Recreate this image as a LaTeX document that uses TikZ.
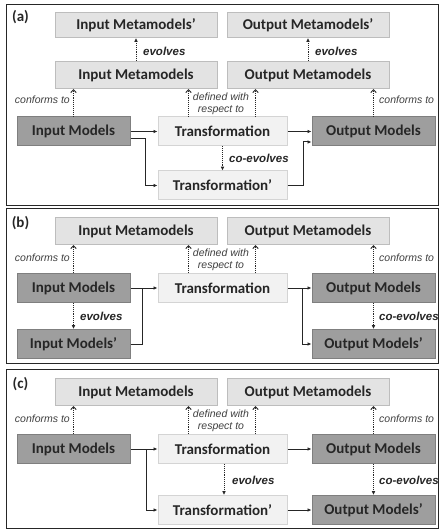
\documentclass[tikz,border=0pt]{standalone}
\usepackage{fontspec}
\setmainfont{Carlito}
\newfontfamily\lblfont{Liberation Sans}
\usetikzlibrary{arrows.meta,calc}
\definecolor{textc}{HTML}{262626}
\definecolor{mdfill}{HTML}{9E9E9E}
\definecolor{mddraw}{HTML}{7F7F7F}
\definecolor{mmfill}{HTML}{E3E3E3}
\definecolor{mmdraw}{HTML}{BDBDBD}
\definecolor{tffill}{HTML}{F2F2F2}
\definecolor{tfdraw}{HTML}{D4D4D4}
\definecolor{linec}{HTML}{262626}
\definecolor{labc}{HTML}{404040}
\begin{document}
\begin{tikzpicture}[x=1pt,y=-1pt,
  box/.style={draw, rectangle, inner sep=0pt, line width=1pt, text=textc,
    font=\fontsize{15}{15}\selectfont\bfseries},
  mm/.style={box, fill=mmfill, draw=mmdraw, minimum width=162pt, minimum height=27pt},
  mmp/.style={mm, minimum height=25pt},
  inm/.style={box, fill=mdfill, draw=mddraw, minimum width=113pt, minimum height=29pt},
  outm/.style={box, fill=mdfill, draw=mddraw, minimum width=123pt, minimum height=29pt},
  tf/.style={box, fill=tffill, draw=tfdraw, minimum width=129pt, minimum height=29pt},
  frame/.style={draw=black!85, line width=1pt},
  panel/.style={font=\fontsize{15}{15}\selectfont\bfseries, text=textc, inner sep=0pt},
  conn/.style={draw=linec, line width=1pt, -{Latex[length=4pt,width=3.6pt]}},
  plain/.style={draw=linec, line width=1pt},
  conf/.style={draw=linec, line width=0.9pt, densely dotted, -{Straight Barb[length=3pt,width=5.5pt]}},
  evo/.style={draw=linec, line width=0.9pt, densely dotted, -{Latex[length=3.8pt,width=3.6pt]}},
  lab/.style={font=\lblfont\fontsize{10.5}{12}\selectfont\itshape, text=labc, inner sep=0pt, align=center},
  elab/.style={font=\lblfont\fontsize{11.5}{12}\selectfont\bfseries\itshape, text=textc, inner sep=0pt}
]
\useasboundingbox (0,0) rectangle (440,529);
\fill[white] (0,0) rectangle (440,529);

% ---------------- panel (a)
\draw[frame] (6,5) rectangle (438,205);
\node[panel] (pa) at (20.5,17) {(a)};
\node[mmp] (aIMMp) at (136,25) {Input Metamodels’};
\node[mmp] (aOMMp) at (308,25) {Output Metamodels’};
\node[mm] (aIMM) at (136,75) {Input Metamodels};
\node[mm] (aOMM) at (308,75) {Output Metamodels};
\node[inm] (aIM) at (73.5,131.5) {Input Models};
\node[tf] (aT) at (222.5,131.5) {Transformation};
\node[outm] (aOM) at (373.5,131.5) {Output Models};
\node[tf] (aTp) at (222.5,185.5) {Transformation’};

\draw[evo] (aIMM) -- (aIMMp);
\draw[evo] (aOMM) -- (aOMMp);
\node[elab, anchor=west] (aev1) at (143,51) {evolves};
\node[elab, anchor=west] (aev2) at (315,51) {evolves};
\draw[conf] (aIM.north) -- (aIM.north |- aIMM.south);
\draw[conf] (aOM.north) -- (aOM.north |- aOMM.south);
\draw[conf] ([xshift=-34pt]aT.north) -- ([xshift=-34pt]aT.north |- aIMM.south);
\draw[conf] ([xshift=33pt]aT.north) -- ([xshift=33pt]aT.north |- aOMM.south);
\node[lab, anchor=east] (acf1) at (70,100) {conforms to};
\node[lab, anchor=west] (acf2) at (379,100) {conforms to};
\node[lab] (adw) at (221,103.5) {defined with\\respect to};
\draw[conn] (aIM.east) -- (aT.west);
\draw[conn] ([yshift=-7.5pt]aIM.east) -- ++(15,0) |- (aTp.west);
\draw[conn] (aT.east) -- (aOM.west);
\draw[conn] (aTp.east) -- ++(16,0) |- ([yshift=-10.5pt]aOM.west);
\draw[evo] (aT) -- (aTp);
\node[elab, anchor=west] (aco) at (229,158.5) {co-evolves};

% ---------------- panel (b)
\draw[frame] (6,208) rectangle (438,363);
\node[panel] (pb) at (20.5,223) {(b)};
\node[mm] (bIMM) at (136,231) {Input Metamodels};
\node[mm] (bOMM) at (308,231) {Output Metamodels};
\node[inm] (bIM) at (73.5,288) {Input Models};
\node[tf] (bT) at (222.5,288) {Transformation};
\node[outm] (bOM) at (373.5,288) {Output Models};
\node[inm] (bIMp) at (73.5,344) {Input Models’};
\node[outm] (bOMp) at (373.5,344) {Output Models’};

\draw[conf] (bIM.north) -- (bIM.north |- bIMM.south);
\draw[conf] (bOM.north) -- (bOM.north |- bOMM.south);
\draw[conf] ([xshift=-34pt]bT.north) -- ([xshift=-34pt]bT.north |- bIMM.south);
\draw[conf] ([xshift=33pt]bT.north) -- ([xshift=33pt]bT.north |- bOMM.south);
\node[lab, anchor=east] (bcf1) at (70,258) {conforms to};
\node[lab, anchor=west] (bcf2) at (379,258) {conforms to};
\node[lab] (bdw) at (221,260) {defined with\\respect to};
\coordinate (bj1) at (142,288);
\coordinate (bj2) at (302,288);
\draw[conn] (bIM.east) -- (bT.west);
\draw[plain] (bIMp.east) -| (bj1);
\draw[conn] (bT.east) -- (bOM.west);
\draw[conn] (bj2) |- (bOMp.west);
\draw[evo] (bIM) -- (bIMp);
\node[elab, anchor=west] (bev) at (80,316.5) {evolves};
\draw[evo] (bOM) -- (bOMp);
\node[elab, anchor=west] (bco) at (379,316.5) {co-evolves};

% ---------------- panel (c)
\draw[frame] (6,369) rectangle (438,528);
\node[panel] (pc) at (20.5,384) {(c)};
\node[mm] (cIMM) at (136,392) {Input Metamodels};
\node[mm] (cOMM) at (308,392) {Output Metamodels};
\node[inm] (cIM) at (73.5,449) {Input Models};
\node[tf] (cT) at (222.5,449) {Transformation};
\node[outm] (cOM) at (373.5,449) {Output Models};
\node[tf] (cTp) at (222.5,510) {Transformation’};
\node[outm] (cOMp) at (373.5,510) {Output Models’};

\draw[conf] (cIM.north) -- (cIM.north |- cIMM.south);
\draw[conf] (cOM.north) -- (cOM.north |- cOMM.south);
\draw[conf] ([xshift=-34pt]cT.north) -- ([xshift=-34pt]cT.north |- cIMM.south);
\draw[conf] ([xshift=33pt]cT.north) -- ([xshift=33pt]cT.north |- cOMM.south);
\node[lab, anchor=east] (ccf1) at (70,419) {conforms to};
\node[lab, anchor=west] (ccf2) at (379,419) {conforms to};
\node[lab] (cdw) at (221,421) {defined with\\respect to};
\coordinate (cj1) at (146,449);
\draw[conn] (cIM.east) -- (cT.west);
\draw[conn] (cj1) |- (cTp.west);
\draw[conn] (cT.east) -- (cOM.west);
\draw[conn] (cTp.east) -- (cOMp.west);
\draw[evo] ([xshift=1.5pt]cT.south) -- ([xshift=1.5pt]cTp.north);
\node[elab, anchor=west] (cev) at (232,480.5) {evolves};
\draw[evo] (cOM) -- (cOMp);
\node[elab, anchor=west] (cco) at (379,480.5) {co-evolves};
\end{tikzpicture}
\end{document}
